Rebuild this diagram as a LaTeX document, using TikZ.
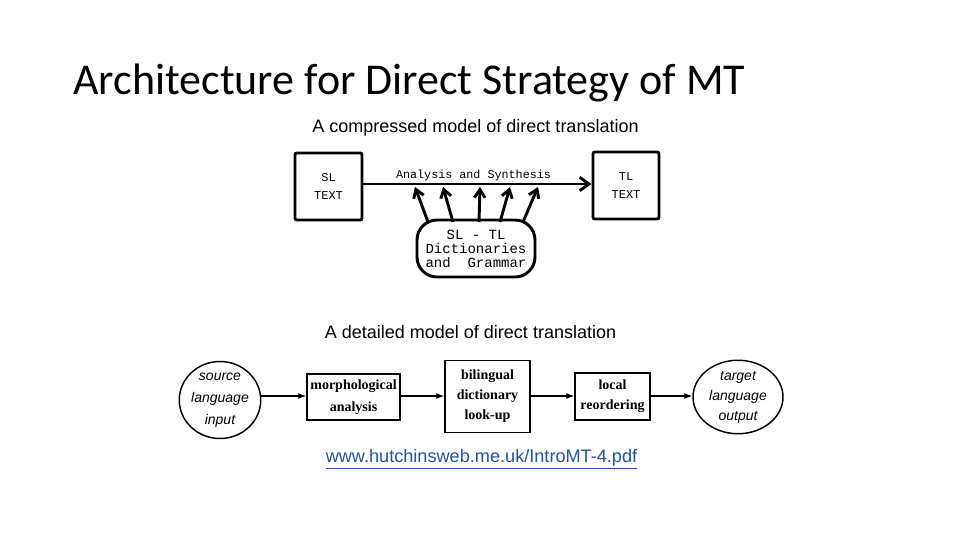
\documentclass[tikz,border=0pt]{standalone}
\usepackage{fontspec}
\setmainfont{Liberation Serif}
\setsansfont{Liberation Sans}
\setmonofont{Liberation Mono}
\newfontfamily\titlefont{Carlito}
\usetikzlibrary{shapes.geometric,arrows.meta}
\definecolor{urlblue}{RGB}{34,85,160}
\begin{document}
\begin{tikzpicture}[x=0.75pt,y=-0.75pt,
  textbox/.style={draw,line width=2.2pt,rounded corners=1.5pt,inner sep=0pt,align=center,font=\ttfamily\fontsize{9}{14}\selectfont},
  dictbox/.style={draw,line width=2.2pt,rounded corners=15pt,inner sep=0pt,align=center,font=\ttfamily\fontsize{10.5}{10.5}\selectfont},
  toparrow/.style={line width=2.2pt,-{Straight Barb[length=6pt,width=8pt]}},
  stepbox/.style={draw,line width=1.1pt,inner sep=0pt,align=center,font=\bfseries\fontsize{10.5}{15}\selectfont},
  endoval/.style={draw,ellipse,line width=1.1pt,inner sep=0pt,align=center,font=\sffamily\itshape\fontsize{10.5}{15}\selectfont},
  botarrow/.style={line width=0.8pt,-{Latex[length=6pt,width=4.5pt]}},
  subtitle/.style={inner sep=0pt,font=\sffamily\fontsize{13.5}{15}\selectfont}
]
\useasboundingbox (0,0) rectangle (960,540);
\fill[white] (0,0) rectangle (960,540);

% title
\node[anchor=base west,inner sep=0pt,font=\titlefont\fontsize{33}{40}\selectfont] (title) at (73,94) {Architecture for Direct Strategy of MT};

% compressed model
\node[subtitle] (sub1) at (475.5,128) {A compressed model of direct translation};
\node[textbox,minimum width=50.25pt,minimum height=50.25pt] (sl) at (328.5,186.5) {SL\\TEXT};
\node[textbox,minimum width=49.5pt,minimum height=50.25pt] (tl) at (626,185.5) {TL\\TEXT};
\coordinate (ly) at (0,184);
\draw[line width=2.2pt,-{Straight Barb[length=7pt,width=10pt]}] (sl.east |- ly) -- (tl.west |- ly);
\node[inner sep=0pt,font=\ttfamily\fontsize{8.8}{10}\selectfont] (as) at (473.5,175) {Analysis and Synthesis};
\node[dictbox,minimum width=88.5pt,minimum height=42.75pt] (dict) at (476,248.5) {SL - TL\\Dictionaries\\and\ \ Grammar};
\coordinate (b1) at (428,222); \coordinate (t1) at (415,187);
\coordinate (b2) at (453,222); \coordinate (t2) at (443,187);
\coordinate (b3) at (479,222); \coordinate (t3) at (480,187);
\coordinate (b4) at (500,222); \coordinate (t4) at (510,187);
\coordinate (b5) at (523,222); \coordinate (t5) at (538,187);
\foreach \i in {1,...,5} {\draw[toparrow] (b\i) -- (t\i);}

% detailed model
\node[subtitle] (sub2) at (470.5,332) {A detailed model of direct translation};
\node[endoval,minimum width=56.25pt,minimum height=48.75pt,font=\sffamily\itshape\fontsize{10.5}{16.5}\selectfont] (src) at (220,400) {source\\language\\input};
\node[stepbox,minimum width=69.75pt,minimum height=34.5pt,font=\bfseries\fontsize{10.5}{16.5}\selectfont] (morph) at (353.5,397) {morphological\\analysis};
\node[stepbox,minimum width=63.75pt,minimum height=54pt] (bil) at (487.5,396.5) {bilingual\\dictionary\\look-up};
\node[stepbox,minimum width=56.25pt,minimum height=35.25pt] (loc) at (612.5,396.5) {local\\reordering};
\node[endoval,minimum width=67.5pt,minimum height=54.75pt] (tgt) at (738,397) {target\\language\\output};
\coordinate (by) at (0,396);
\draw[botarrow] (src.east |- by) -- (morph.west |- by);
\draw[botarrow] (morph.east |- by) -- (bil.west |- by);
\draw[botarrow] (bil.east |- by) -- (loc.west |- by);
\draw[botarrow] (loc.east |- by) -- (tgt.west |- by);

% source link
\node[inner sep=0pt,text=urlblue,font=\sffamily\fontsize{13.6}{15}\selectfont] (url) at (481.5,459) {\underline{www.hutchinsweb.me.uk/IntroMT-4.pdf}};
\end{tikzpicture}
\end{document}
